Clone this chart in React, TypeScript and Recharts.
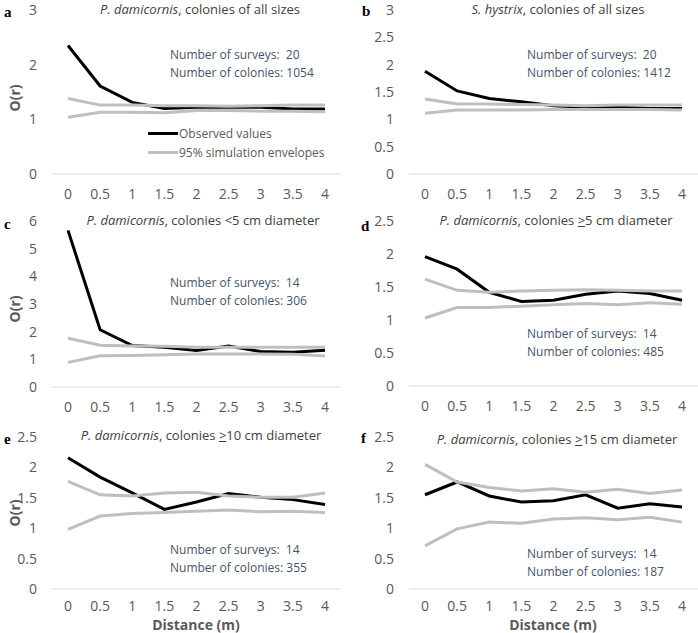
import React from 'react';
import { LineChart, Line, XAxis, YAxis, Legend } from 'recharts';

const distances = ['0', '0.5', '1', '1.5', '2', '2.5', '3', '3.5', '4'];

// a: P. damicornis, all sizes
const obsA = [2.35, 1.61, 1.31, 1.2, 1.22, 1.22, 1.22, 1.19, 1.19];
const upA = [1.38, 1.26, 1.26, 1.25, 1.25, 1.24, 1.25, 1.26, 1.26];
const loA = [1.04, 1.13, 1.13, 1.12, 1.16, 1.16, 1.15, 1.15, 1.14];

// b: S. hystrix, all sizes
const obsB = [1.88, 1.52, 1.38, 1.32, 1.25, 1.22, 1.22, 1.2, 1.2];
const upB = [1.37, 1.28, 1.28, 1.27, 1.26, 1.25, 1.26, 1.26, 1.26];
const loB = [1.11, 1.17, 1.17, 1.17, 1.18, 1.18, 1.18, 1.18, 1.17];

// c: < 5 cm
const obsC = [5.66, 2.07, 1.5, 1.44, 1.32, 1.48, 1.28, 1.26, 1.33];
const upC = [1.76, 1.51, 1.48, 1.47, 1.44, 1.44, 1.44, 1.44, 1.44];
const loC = [0.89, 1.13, 1.14, 1.17, 1.19, 1.19, 1.19, 1.18, 1.12];

// d: >= 5 cm
const obsD = [1.96, 1.77, 1.42, 1.28, 1.3, 1.39, 1.44, 1.4, 1.3];
const upD = [1.62, 1.45, 1.42, 1.44, 1.45, 1.46, 1.45, 1.44, 1.44];
const loD = [1.03, 1.19, 1.19, 1.21, 1.23, 1.25, 1.23, 1.26, 1.24];

// e: >= 10 cm
const obsE = [2.16, 1.84, 1.58, 1.31, 1.43, 1.57, 1.51, 1.47, 1.39];
const upE = [1.77, 1.55, 1.53, 1.58, 1.59, 1.53, 1.51, 1.51, 1.58];
const loE = [0.98, 1.2, 1.24, 1.26, 1.28, 1.3, 1.27, 1.28, 1.26];

// f: >= 15 cm
const obsF = [1.55, 1.76, 1.53, 1.43, 1.45, 1.55, 1.33, 1.4, 1.35];
const upF = [2.05, 1.76, 1.67, 1.61, 1.65, 1.59, 1.64, 1.57, 1.63];
const loF = [0.71, 0.99, 1.1, 1.08, 1.15, 1.17, 1.14, 1.18, 1.1];

const FONT = '"Open Sans", Lato, sans-serif';
const TICK = '#595959';
const NOTE = '#44546A';
const OBS = '#000000';
const ENV = '#BFBFBF';

const toRows = (obs: number[], up: number[], lo: number[]) =>
  distances.map((d, i) => ({ d, obs: obs[i], up: up[i], lo: lo[i] }));

const Ge = ({ n }: { n: string }) => (
  <>
    <span style={{ textDecoration: 'underline' }}>{'>'}</span>
    {n}
  </>
);

const LegendBox = () => (
  <div style={{ fontFamily: FONT, fontSize: 12, color: TICK, lineHeight: '19px' }}>
    <div style={{ display: 'flex', alignItems: 'center' }}>
      <span style={{ width: 30, height: 3, background: OBS, marginRight: 1 }} />
      Observed values
    </div>
    <div style={{ display: 'flex', alignItems: 'center' }}>
      <span style={{ width: 30, height: 3, background: ENV, marginRight: 1 }} />
      95% simulation envelopes
    </div>
  </div>
);

type PanelProps = {
  left: number;
  top: number;
  letter: string;
  letterPos: [number, number];
  title: React.ReactNode;
  titlePos: [number, number];
  yMax: number;
  yTicks: number[];
  obs: number[];
  up: number[];
  lo: number[];
  surveys: string;
  colonies: string;
  notePos: [number, number];
  plotTop: number;
  axisH: number;
  yW: number;
  mRight: number;
  yLabelY?: number;
  xLabelX?: number;
  legend?: boolean;
};

const Panel = (p: PanelProps) => (
  <div style={{ position: 'absolute', left: p.left, top: p.top, width: 349, height: 211 }}>
    <LineChart
      width={349}
      height={211}
      data={toRows(p.obs, p.up, p.lo)}
      margin={{ top: p.plotTop, right: p.mRight, bottom: 0, left: 0 }}
    >
      <XAxis
        dataKey='d'
        height={p.axisH}
        stroke='#D9D9D9'
        padding={{ left: 16, right: 16 }}
        tickLine={false}
        tickSize={0}
        tickMargin={p.xLabelX !== undefined ? 12 : 15}
        interval={0}
        tick={{ fill: TICK, fontSize: 14, fontFamily: FONT }}
      />
      <YAxis
        width={p.yW}
        domain={[0, p.yMax]}
        ticks={p.yTicks}
        axisLine={false}
        tickLine={false}
        tickSize={0}
        tickMargin={15}
        tick={{ fill: TICK, fontSize: 14, fontFamily: FONT }}
      />
      {p.legend && (
        <Legend
          layout='vertical'
          align='center'
          verticalAlign='middle'
          content={() => <LegendBox />}
          wrapperStyle={{ left: 148, top: 124, width: 'auto' }}
        />
      )}
      <Line dataKey='obs' stroke={OBS} strokeWidth={3} dot={false} isAnimationActive={false} />
      <Line dataKey='up' stroke={ENV} strokeWidth={3} dot={false} isAnimationActive={false} />
      <Line dataKey='lo' stroke={ENV} strokeWidth={3} dot={false} isAnimationActive={false} />
    </LineChart>

    <div
      style={{
        position: 'absolute', left: p.letterPos[0], top: p.letterPos[1] - 8,
        fontFamily: '"Liberation Serif", serif', fontWeight: 'bold', fontSize: 15, lineHeight: '16px',
      }}
    >
      {p.letter}
    </div>
    <div
      style={{
        position: 'absolute', left: p.titlePos[0] - 150, top: p.titlePos[1] - 8, width: 300,
        textAlign: 'center', fontFamily: FONT, fontSize: 13, lineHeight: '16px', color: '#404040',
        whiteSpace: 'nowrap',
      }}
    >
      {p.title}
    </div>
    <div
      style={{
        position: 'absolute', left: p.notePos[0], top: p.notePos[1], fontFamily: FONT,
        fontSize: 12, lineHeight: '18px', color: NOTE, whiteSpace: 'pre',
      }}
    >
      {`Number of surveys:  ${p.surveys}\nNumber of colonies: ${p.colonies}`}
    </div>
    {p.yLabelY !== undefined && (
      <div
        style={{
          position: 'absolute', left: 15 - 20, top: p.yLabelY - 10, width: 40, textAlign: 'center',
          transform: 'rotate(-90deg)', fontFamily: FONT, fontWeight: 'bold', fontSize: 14,
          lineHeight: '20px', color: TICK,
        }}
      >
        O(r)
      </div>
    )}
    {p.xLabelX !== undefined && (
      <div
        style={{
          position: 'absolute', left: p.xLabelX - 60, top: 203 - 7, width: 120, textAlign: 'center',
          fontFamily: FONT, fontWeight: 'bold', fontSize: 14, lineHeight: '14px', color: TICK,
        }}
      >
        Distance (m)
      </div>
    )}
  </div>
);

export default function App() {
  return (
    <div style={{ position: 'absolute', left: 0, top: 0, width: 698, height: 633, background: '#fff' }}>
      <Panel
        left={0} top={0} letter='a' letterPos={[4, 12]}
        title={<><i>P. damicornis</i>, colonies of all sizes</>} titlePos={[200, 9]}
        yMax={3} yTicks={[0, 1, 2, 3]} obs={obsA} up={upA} lo={loA}
        surveys='20' colonies='1054' notePos={[170, 46]}
        plotTop={10} axisH={37} yW={52} mRight={8} yLabelY={98} legend
      />
      <Panel
        left={349} top={0} letter='b' letterPos={[13, 11]}
        title={<><i>S. hystrix</i>, colonies of all sizes</>} titlePos={[209, 9]}
        yMax={3} yTicks={[0, 0.5, 1, 1.5, 2, 2.5, 3]} obs={obsB} up={upB} lo={loB}
        surveys='20' colonies='1412' notePos={[178, 46]}
        plotTop={10} axisH={37} yW={60} mRight={0}
      />
      <Panel
        left={0} top={211} letter='c' letterPos={[4, 13]}
        title={<><i>P. damicornis</i>, colonies &lt;5 cm diameter</>} titlePos={[203, 9]}
        yMax={6} yTicks={[0, 1, 2, 3, 4, 5, 6]} obs={obsC} up={upC} lo={loC}
        surveys='14' colonies='306' notePos={[170, 63]}
        plotTop={10} axisH={35} yW={52} mRight={8} yLabelY={98}
      />
      <Panel
        left={349} top={211} letter='d' letterPos={[12, 15]}
        title={<><i>P. damicornis</i>, colonies <Ge n='5' /> cm diameter</>} titlePos={[207, 9]}
        yMax={2.5} yTicks={[0, 0.5, 1, 1.5, 2, 2.5]} obs={obsD} up={upD} lo={loD}
        surveys='14' colonies='485' notePos={[178, 114]}
        plotTop={10} axisH={36} yW={60} mRight={0}
      />
      <Panel
        left={0} top={422} letter='e' letterPos={[4, 17]}
        title={<><i>P. damicornis</i>, colonies <Ge n='10' /> cm diameter</>} titlePos={[201, 13]}
        yMax={2.5} yTicks={[0, 0.5, 1, 1.5, 2, 2.5]} obs={obsE} up={upE} lo={loE}
        surveys='14' colonies='355' notePos={[170, 119]}
        plotTop={15} axisH={44} yW={52} mRight={8} yLabelY={91} xLabelX={196}
      />
      <Panel
        left={349} top={422} letter='f' letterPos={[12, 16]}
        title={<><i>P. damicornis</i>, colonies <Ge n='15' /> cm diameter</>} titlePos={[208, 17]}
        yMax={2.5} yTicks={[0, 0.5, 1, 1.5, 2, 2.5]} obs={obsF} up={upF} lo={loF}
        surveys='14' colonies='187' notePos={[178, 123]}
        plotTop={15} axisH={44} yW={60} mRight={0} xLabelX={204}
      />
    </div>
  );
}
